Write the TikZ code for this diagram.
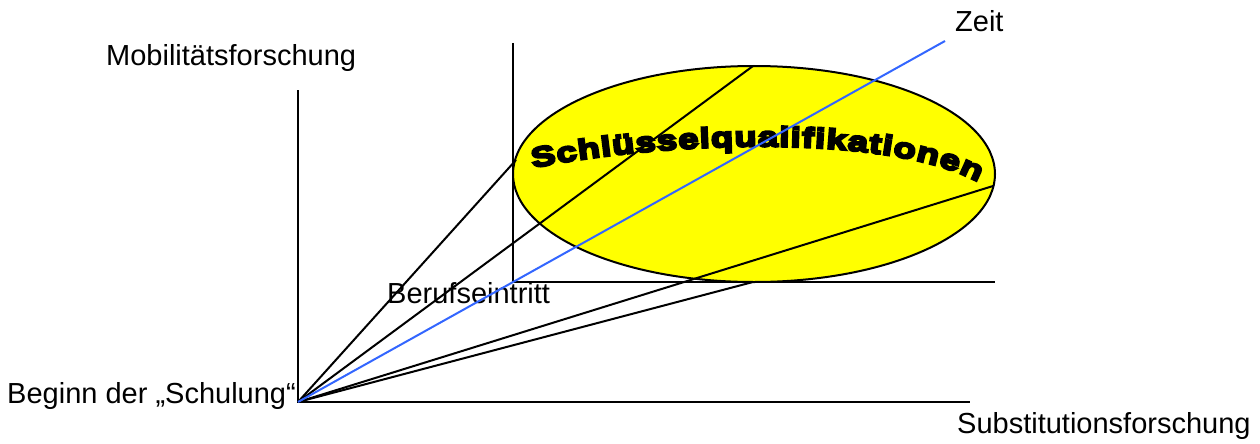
\documentclass[tikz,border=0pt]{standalone}
\usepackage{fontspec}
\setmainfont{Liberation Sans}
\newfontfamily\wafont[FakeBold=8,FakeStretch=1.3]{Liberation Sans Bold}
\usetikzlibrary{shapes.geometric,decorations.text}
\definecolor{zeitblue}{RGB}{51,102,255}
\definecolor{wayellow}{RGB}{255,255,0}
\tikzset{
  axis/.style={draw=black,line width=2pt},
  ray/.style={draw=black,line width=2pt},
  zeitray/.style={draw=zeitblue,line width=2pt},
  lbl/.style={inner sep=0pt,font=\fontsize{29}{34}\selectfont},
  blob/.style={ellipse,draw=black,line width=2pt,fill=wayellow,inner sep=0pt,minimum width=482pt,minimum height=216pt}
}
\begin{document}
\begin{tikzpicture}[x=1pt,y=-1pt]
\useasboundingbox (0,0) rectangle (1260,444);
% coordinates
\coordinate (O) at (298,402);
\coordinate (vtop) at (298,90);
\coordinate (hend) at (970,402);
\coordinate (B) at (513,282);
\coordinate (btop) at (513,43);
\coordinate (bend) at (995,282);
% main axes
\draw[axis] (vtop) -- (O) -- (hend);
% second axes
\draw[axis] (btop) -- (B) -- (bend);
% ellipse
\node[blob] (ell) at (754,174) {};
% word art
\path[decorate,decoration={text along path,text align={fit to path},
  text={|\wafont\fontsize{28}{32}\selectfont|Schlüsselqualifikationen}}]
  (533,168) .. controls (670,140) and (890,134) .. (978,182);
% ray end points
\coordinate (r1) at (516,160);
\coordinate (r2) at (753,66);
\coordinate (r4) at (993,186);
\coordinate (r5) at (753,282);
\coordinate (zeitend) at (945,41);
% labels
\node[lbl,anchor=base west] (mob) at (106,66) {Mobilitätsforschung};
\node[lbl,anchor=base west] (zeit) at (955,32) {Zeit};
\node[lbl,anchor=base west] (beruf) at (387,303) {Berufseintritt};
\node[lbl,anchor=base east] (beginn) at (296,403) {Beginn der „Schulung“};
\node[lbl,anchor=base west] (subst) at (957,433) {Substitutionsforschung};
% rays
\draw[ray] (O) -- (r1);
\draw[ray] (O) -- (r2);
\draw[ray] (O) -- (r4);
\draw[ray] (O) -- (r5);
\draw[zeitray] (O) -- (zeitend);
\end{tikzpicture}
\end{document}
